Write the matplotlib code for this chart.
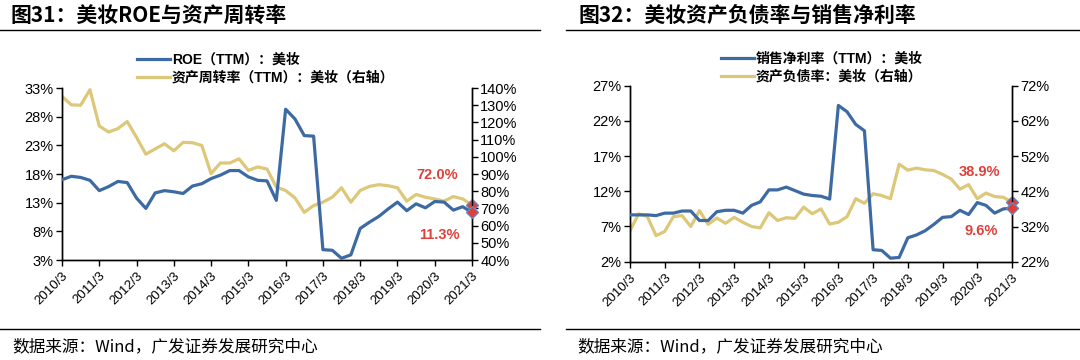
import matplotlib
matplotlib.use("Agg")
import matplotlib.pyplot as plt
from matplotlib.lines import Line2D
import numpy as np

plt.rcParams['font.family'] = ['Liberation Sans', 'Noto Sans CJK SC', 'DejaVu Sans']
CJK = ['Noto Sans CJK SC', 'DejaVu Sans']

# quarterly, 2010/3 .. 2021/3
years = ['2010/3', '2011/3', '2012/3', '2013/3', '2014/3', '2015/3',
         '2016/3', '2017/3', '2018/3', '2019/3', '2020/3', '2021/3']

roe = [17.0, 17.6, 17.4, 16.9, 15.1, 15.8, 16.7, 16.5, 13.8, 12.0, 14.7, 15.1,
       14.9, 14.6, 15.9, 16.3, 17.2, 17.8, 18.6, 18.6, 17.5, 16.9, 16.8, 13.4,
       29.3, 27.6, 24.7, 24.6, 4.8, 4.7, 3.3, 3.9, 8.5, 9.6, 10.6, 11.9,
       13.1, 11.6, 12.8, 12.1, 13.2, 13.1, 11.7, 12.3, 11.3]
turnover = [135.1, 130.2, 130.0, 139.0, 117.9, 114.4, 116.4, 120.5, 111.3, 101.5,
            104.6, 107.6, 103.5, 108.4, 108.2, 106.6, 90.2, 96.4, 96.4, 98.8,
            92.1, 94.1, 92.9, 82.4, 80.4, 76.1, 67.7, 71.6, 73.6, 76.5,
            82.0, 73.6, 80.4, 82.8, 83.8, 83.2, 82.0, 74.2, 78.1, 76.5,
            75.5, 74.2, 76.9, 75.5, 72.0]

net_margin = [8.65, 8.65, 8.65, 8.55, 8.9, 8.9, 9.2, 9.2, 7.85, 7.85, 9.1, 9.3,
              9.3, 8.9, 10.0, 10.5, 12.2, 12.2, 12.6, 12.1, 11.6, 11.4, 11.3, 10.9,
              24.2, 23.3, 21.5, 20.6, 3.7, 3.6, 2.5, 2.6, 5.4, 5.8, 6.4, 7.3,
              8.3, 8.4, 9.3, 8.7, 10.4, 10.0, 8.9, 9.5, 9.6]
debt_ratio = [30.8, 35.6, 34.8, 29.4, 30.6, 34.8, 35.1, 32.0, 36.5, 32.6,
              34.4, 32.9, 34.6, 33.2, 32.0, 31.6, 35.9, 33.7, 34.5, 34.3,
              37.5, 35.6, 37.0, 32.7, 33.2, 34.8, 39.9, 38.6, 41.3, 40.8,
              39.9, 49.7, 48.0, 48.6, 48.1, 47.9, 46.8, 45.5, 42.6, 43.9,
              39.9, 41.5, 40.5, 40.3, 38.9]

BLUE = '#3D6AA3'
YELLOW = '#DCC878'
RED = '#E0403A'

fig = plt.figure(figsize=(10.8, 3.6), dpi=100)


def panel(rect, left_vals, right_vals, lticks, rticks, lbl_l, lbl_r, txt_l, txt_r):
    x = np.arange(len(left_vals))
    ax = fig.add_axes(rect)
    ax2 = ax.twinx()
    ax.plot(x, left_vals, color=BLUE, lw=2.3, zorder=3)
    ax2.plot(x, right_vals, color=YELLOW, lw=2.3, zorder=2)
    ax.set_zorder(ax2.get_zorder() + 1)
    ax.patch.set_visible(False)
    ax.plot(x[-1], left_vals[-1], marker='D', ms=6, mfc=RED, mec='#6A86B8',
            mew=1, clip_on=False, zorder=5)
    ax2.plot(x[-1], right_vals[-1], marker='D', ms=6, mfc=RED, mec='#6A86B8',
             mew=1, clip_on=False, zorder=5)
    ax.set_xlim(0, len(left_vals) - 1)
    ax.set_ylim(lticks[0], lticks[-1])
    ax2.set_ylim(rticks[0], rticks[-1])
    ax.set_yticks(lticks)
    ax.set_yticklabels([f'{v}%' for v in lticks], fontsize=10.5)
    ax2.set_yticks(rticks)
    ax2.set_yticklabels([f'{v}%' for v in rticks], fontsize=10.5)
    ax.set_xticks(np.arange(0, len(left_vals), 4))
    ax.set_xticklabels(years, rotation=45, fontsize=9.5, ha='right',
                       rotation_mode='anchor')
    for a in (ax, ax2):
        a.spines['top'].set_visible(False)
        for s in ('left', 'right', 'bottom'):
            a.spines[s].set_color('black')
            a.spines[s].set_linewidth(1)
        a.tick_params(axis='both', length=4, width=1, color='black', pad=2)
    ax.tick_params(axis='x', pad=3)
    ax.text(txt_l[0], txt_l[1], lbl_l, color=RED, fontsize=10.5,
            fontweight='bold', transform=ax.transData, ha='center', va='center')
    ax2.text(txt_r[0], txt_r[1], lbl_r, color=RED, fontsize=10.5,
             fontweight='bold', transform=ax2.transData, ha='center', va='center')
    return ax, ax2


LEG_PROP = {'family': ['Liberation Sans', 'Noto Sans CJK SC'], 'size': 10,
            'weight': 'bold'}

ax, ax2 = panel([62 / 1080, 1 - 260 / 360, 410 / 1080, 172 / 360],
                roe, turnover,
                [3, 8, 13, 18, 23, 28, 33],
                [40, 50, 60, 70, 80, 90, 100, 110, 120, 130, 140],
                '11.3%', '72.0%', (40.5, 7.3), (40.3, 89.5))
ax.legend(handles=[Line2D([], [], color=BLUE, lw=2.3),
                   Line2D([], [], color=YELLOW, lw=2.3)],
          labels=['ROE（TTM）：美妆', '资产周转率（TTM）：美妆（右轴）'],
          loc='upper left', bbox_to_anchor=(124 / 1080, 1 - 40 / 360),
          bbox_transform=fig.transFigure, frameon=False,
          handlelength=2.4, handletextpad=0.15, labelspacing=0.3,
          prop=LEG_PROP)

bx, bx2 = panel([630 / 1080, 1 - 261.7 / 360, 382 / 1080, 176 / 360],
                net_margin, debt_ratio,
                [2, 7, 12, 17, 22, 27],
                [22, 32, 42, 52, 62, 72],
                '9.6%', '38.9%', (40.4, 6.4), (40.2, 47.6))
bx.legend(handles=[Line2D([], [], color=BLUE, lw=2.3),
                   Line2D([], [], color=YELLOW, lw=2.3)],
          labels=['销售净利率（TTM）：美妆', '资产负债率：美妆（右轴）'],
          loc='upper left', bbox_to_anchor=(708 / 1080, 1 - 39 / 360),
          bbox_transform=fig.transFigure, frameon=False,
          handlelength=2.4, handletextpad=0.15, labelspacing=0.3,
          prop=LEG_PROP)

# titles, rules and sources
fig.text(10 / 1080, 1 - 15 / 360, '图31：美妆ROE与资产周转率', fontsize=15,
         fontweight='bold', va='center', ha='left', family=CJK)
fig.text(578 / 1080, 1 - 15 / 360, '图32：美妆资产负债率与销售净利率', fontsize=15,
         fontweight='bold', va='center', ha='left', family=CJK)
for x0, x1 in ((0, 540), (566, 1080)):
    fig.add_artist(Line2D([x0 / 1080, x1 / 1080], [1 - 30 / 360] * 2,
                          color='black', lw=1))
    fig.add_artist(Line2D([x0 / 1080, x1 / 1080], [1 - 329 / 360] * 2,
                          color='black', lw=1))
fig.text(12 / 1080, 1 - 347 / 360, '数据来源：Wind，广发证券发展研究中心',
         fontsize=12, va='center', ha='left', family=CJK)
fig.text(577 / 1080, 1 - 347 / 360, '数据来源：Wind，广发证券发展研究中心',
         fontsize=12, va='center', ha='left', family=CJK)

fig.savefig('out.png', dpi=100)
